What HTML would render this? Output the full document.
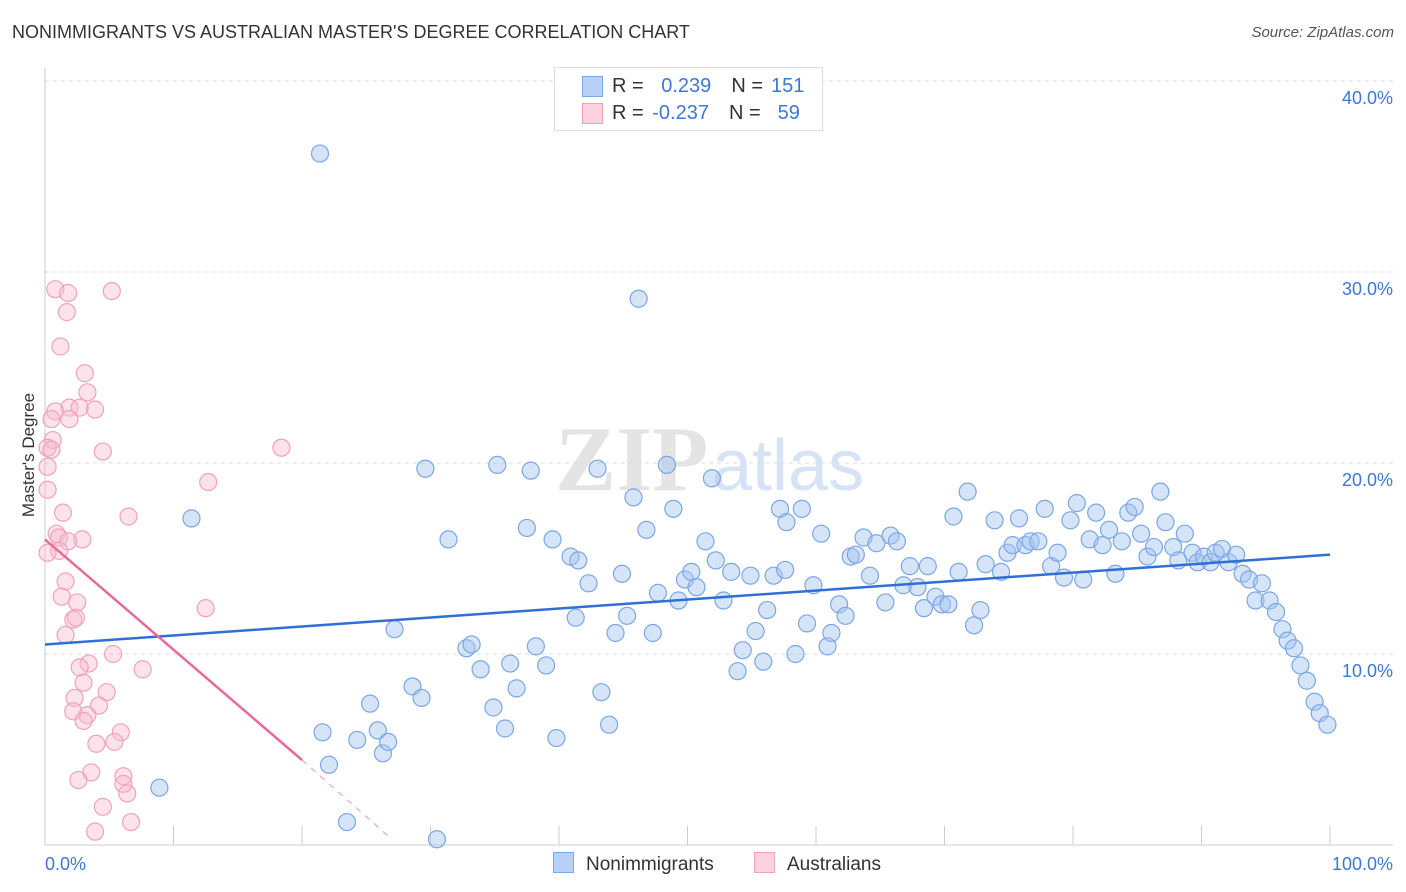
<!DOCTYPE html>
<html><head><meta charset="utf-8"><style>
body{margin:0;background:#fff;font-family:"Liberation Sans",sans-serif;}
#wrap{position:relative;width:1406px;height:892px;overflow:hidden;}
.t{position:absolute;white-space:nowrap;}
</style></head><body>
<div id="wrap">
<div class="t" style="left:12px;top:22px;font-size:18px;color:#333;">NONIMMIGRANTS VS AUSTRALIAN MASTER'S DEGREE CORRELATION CHART</div>
<div class="t" style="right:12px;top:24px;font-size:15px;color:#555;font-style:italic;">Source: ZipAtlas.com</div>
<svg id="svg" width="1406" height="892" style="position:absolute;left:0;top:0"></svg>
</div>
<script>
const yTicks=[10,20,30,40];
const xTickLabels=["0.0%","100.0%"];
const blueX=[21.4,46.2,11.4,8.9,23.5,30.5,21.6,22.1,24.3,25.3,25.9,26.3,26.7,27.2,28.6,29.3,29.6,31.4,32.8,33.2,33.9,34.9,35.2,35.8,36.2,36.7,37.5,37.8,38.2,39.0,39.5,39.8,40.9,41.5,41.3,42.3,43.0,43.3,43.9,44.4,44.9,45.3,45.8,46.8,47.3,47.7,48.4,48.9,49.3,49.8,50.3,50.7,51.4,51.9,52.2,52.8,53.4,53.9,54.3,54.9,55.3,55.9,56.2,56.7,57.2,57.6,57.7,58.4,58.9,59.3,59.8,60.4,60.9,61.2,61.8,62.3,62.7,63.1,63.7,64.2,64.7,65.4,65.8,66.3,66.8,67.3,67.9,68.4,68.7,69.3,69.8,70.3,70.7,71.1,71.8,72.3,72.8,73.2,73.9,74.4,74.9,75.3,75.8,76.3,76.7,77.3,77.8,78.3,78.8,79.3,79.8,80.3,80.8,81.3,81.8,82.3,82.8,83.3,83.8,84.3,84.8,85.3,85.8,86.3,86.8,87.2,87.8,88.2,88.7,89.3,89.7,90.2,90.7,91.1,91.6,92.1,92.7,93.2,93.7,94.2,94.7,95.3,95.8,96.3,96.7,97.2,97.7,98.2,98.8,99.2,99.8];
const blueY=[36.2,28.6,17.1,3.0,1.2,0.3,5.9,4.2,5.5,7.4,6.0,4.8,5.4,11.3,8.3,7.7,19.7,16.0,10.3,10.5,9.2,7.2,19.9,6.1,9.5,8.2,16.6,19.6,10.4,9.4,16.0,5.6,15.1,14.9,11.9,13.7,19.7,8.0,6.3,11.1,14.2,12.0,18.2,16.5,11.1,13.2,19.9,17.6,12.8,13.9,14.3,13.5,15.9,19.2,14.9,12.8,14.3,9.1,10.2,14.1,11.2,9.6,12.3,14.1,17.6,14.4,16.9,10.0,17.6,11.6,13.6,16.3,10.4,11.1,12.6,12.0,15.1,15.2,16.1,14.1,15.8,12.7,16.2,15.9,13.6,14.6,13.5,12.4,14.6,13.0,12.6,12.6,17.2,14.3,18.5,11.5,12.3,14.7,17.0,14.3,15.3,15.7,17.1,15.7,15.9,15.9,17.6,14.6,15.3,14.0,17.0,17.9,13.9,16.0,17.4,15.7,16.5,14.2,15.9,17.4,17.7,16.3,15.1,15.6,18.5,16.9,15.6,14.9,16.3,15.3,14.8,15.1,14.8,15.3,15.5,14.8,15.2,14.2,13.9,12.8,13.7,12.8,12.2,11.3,10.7,10.3,9.4,8.6,7.5,6.9,6.3];
const pinkX=[0.8,1.8,5.2,1.7,1.2,3.1,3.3,1.9,2.7,3.9,0.8,1.9,0.5,0.6,0.2,0.5,4.5,18.4,12.7,0.2,0.2,6.5,1.4,0.9,1.1,2.9,1.8,1.1,0.2,1.6,1.3,2.5,12.5,2.2,2.4,1.6,5.3,7.6,3.4,2.7,3.0,2.3,4.8,4.2,2.2,3.3,3.0,5.9,5.4,4.0,3.6,2.6,6.1,6.1,6.4,4.5,6.7,3.9];
const pinkY=[29.1,28.9,29.0,27.9,26.1,24.7,23.7,22.9,22.9,22.8,22.7,22.3,22.3,21.2,20.8,20.7,20.6,20.8,19.0,19.8,18.6,17.2,17.4,16.3,16.1,16.0,15.9,15.4,15.3,13.8,13.0,12.7,12.4,11.8,11.9,11.0,10.0,9.2,9.5,9.3,8.5,7.7,8.0,7.3,7.0,6.8,6.5,5.9,5.4,5.3,3.8,3.4,3.6,3.2,2.7,2.0,1.2,0.7];
const blueTrend=[10.5,15.2];
const pinkTrend=[16.0,4.45,0.3];
const pinkTrendX=[0,20.0,27.0];

const sx=v=>45+v*12.85, sy=v=>845-v*19.1;
const svg=document.getElementById('svg');
const NS='http://www.w3.org/2000/svg';
function mk(tag,at,parent){const e=document.createElementNS(NS,tag);for(const k in at)e.setAttribute(k,at[k]);(parent||svg).appendChild(e);return e;}
// watermark
let wm=mk('text',{x:555,y:490,'font-size':92,fill:'#e4e4e4','font-family':'Liberation Serif, serif','font-weight':'bold'});
wm.textContent='ZIP';


let wm2=mk('text',{x:712,y:490,'font-size':72,fill:'#d6e3f5','font-family':'Liberation Sans, sans-serif'});
wm2.textContent='atlas';


// gridlines
yTicks.forEach(v=>{
 const g=mk('line',{x1:45,x2:1393,y1:sy(v),y2:sy(v),stroke:'#ddd','stroke-dasharray':'4,4'});
 
 
 const t=mk('text',{x:1393,y:sy(v)+23,'text-anchor':'end','font-size':18,fill:'#3b78d8','font-family':'Liberation Sans, sans-serif'});
 t.textContent=v.toFixed(1)+'%';
 
 
});
// axes
let ax=mk('line',{x1:45,x2:45,y1:68,y2:845,stroke:'#ccc'});


let bx=mk('line',{x1:45,x2:1393,y1:845,y2:845,stroke:'#ccc'});


for(let i=0;i<=10;i++){
 const tk=mk('line',{x1:sx(i*10),x2:sx(i*10),y1:826,y2:845,stroke:'#ccc'});
 
 
}
[[0,'start',45],[100,'end',1393]].forEach((d,i)=>{
 const t=mk('text',{x:d[2],y:870,'text-anchor':d[1],'font-size':18,fill:'#3b78d8','font-family':'Liberation Sans, sans-serif'});
 t.textContent=xTickLabels[i];
 
 
});
let yt=mk('text',{x:34,y:455,'text-anchor':'middle','font-size':17,fill:'#333',transform:'rotate(-90 34 455)','font-family':'Liberation Sans, sans-serif'});
yt.textContent="Master's Degree";


// points
blueX.forEach((x,i)=>{
 const c=mk('circle',{cx:sx(x),cy:sy(blueY[i]),r:8.5,fill:'rgba(165,195,240,0.45)',stroke:'#7ba7e6','stroke-width':1.2});
 
 
});
pinkX.forEach((x,i)=>{
 const c=mk('circle',{cx:sx(x),cy:sy(pinkY[i]),r:8.5,fill:'rgba(248,185,205,0.4)',stroke:'#f0a2bb','stroke-width':1.2});
 
 
});
// trends
let bl=mk('line',{x1:sx(0),y1:sy(blueTrend[0]),x2:sx(100),y2:sy(blueTrend[1]),stroke:'#2f6fd6','stroke-width':2.5});


let pl=mk('line',{x1:sx(pinkTrendX[0]),y1:sy(pinkTrend[0]),x2:sx(pinkTrendX[1]),y2:sy(pinkTrend[1]),stroke:'#e8699a','stroke-width':2.5});


let pd=mk('line',{x1:sx(pinkTrendX[1]),y1:sy(pinkTrend[1]),x2:sx(pinkTrendX[2]),y2:sy(pinkTrend[2]),stroke:'#f0a2bb','stroke-width':1.2,'stroke-dasharray':'6,6'});


</script>
<div style="position:absolute;left:554px;top:67px;width:267px;height:62px;border:1px solid #ddd;background:#fff;font-size:20px;">
 <div style="position:absolute;left:27px;top:8px;width:19px;height:19px;background:#b8d0f5;border:1px solid #7ba7e6;"></div>
 <div class="t" style="left:57px;top:7px;color:#333;">R = <span style="color:#3b78d8;margin-left:12px">0.239</span><span style="margin-left:20px">N =</span><span style="color:#3b78d8;margin-left:8px">151</span></div>
 <div style="position:absolute;left:27px;top:35px;width:19px;height:19px;background:#fcd0dd;border:1px solid #f0a2bb;"></div>
 <div class="t" style="left:57px;top:34px;color:#333;">R = <span style="color:#3b78d8;margin-left:3px">-0.237</span><span style="margin-left:20px">N =</span><span style="color:#3b78d8;margin-left:17px">59</span></div>
</div>
<div style="position:absolute;left:553px;top:852px;font-size:19px;color:#333;">
 <span style="position:absolute;left:0;top:0;white-space:nowrap;"><span style="display:inline-block;width:19px;height:19px;background:#b8d0f5;border:1px solid #7ba7e6;vertical-align:-3px;margin-right:12px"></span>Nonimmigrants</span>
 <span style="position:absolute;left:201px;top:0;white-space:nowrap;"><span style="display:inline-block;width:19px;height:19px;background:#fcd0dd;border:1px solid #f0a2bb;vertical-align:-3px;margin-right:12px"></span>Australians</span>
</div>
</body></html>
